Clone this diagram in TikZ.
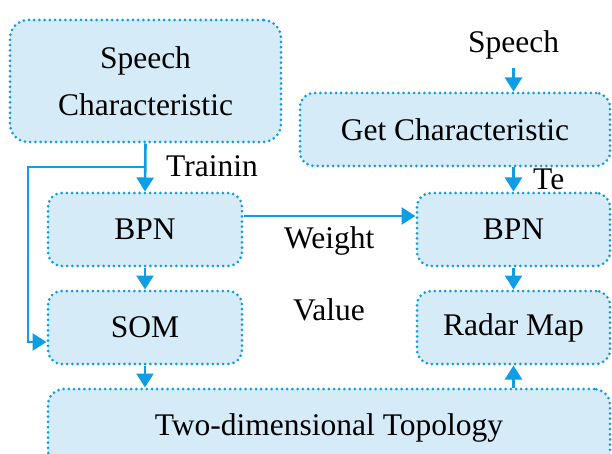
\documentclass[tikz,border=0pt]{standalone}
\usepackage{fontspec}
\setmainfont{Liberation Serif}
\usetikzlibrary{arrows.meta, positioning}
\definecolor{lineblue}{RGB}{15,158,228}
\definecolor{boxfill}{RGB}{213,235,248}
\tikzset{
  block/.style={draw=lineblue, fill=boxfill, line width=3pt, dash pattern=on 0pt off 5.2pt,
    line cap=round, rounded corners=14pt, align=center, inner sep=0pt,
    minimum width=194pt, minimum height=73pt},
  flow/.style={draw=lineblue, line width=2.6pt, -{Triangle[length=14pt,width=17pt]}},
  lbl/.style={inner sep=0pt, anchor=base west}
}
\begin{document}
\begin{tikzpicture}[x=1pt, y=-1pt, font=\rmfamily\fontsize{31.5}{47}\selectfont]
\useasboundingbox (0,0) rectangle (612,454);
% training side
\node[block, minimum width=271pt, minimum height=122pt, rounded corners=18pt] (spch) at (145.5,81) {Speech\\Characteristic};
\node[block] (bpnl) at (145,229.5) {BPN};
\node[block] (soml) at (145,327.5) {SOM};
\node[block, minimum width=562pt, minimum height=77pt, rounded corners=16pt] (topo) at (329,427.5) {Two-dimensional Topology};
% test side
\node[lbl] (spin) at (468,53) {Speech};
\node[block, minimum width=310pt] (getc) at (455,129.5) {Get Characteristic};
\node[block, minimum width=193pt] (bpnr) at (513.5,229.5) {BPN};
\node[block, minimum width=193pt] (radar) at (513.5,327.5) {Radar Map};
% labels
\node[lbl] (train) at (166,177) {Trainin};
\node[lbl] (test) at (533,190) {Te};
\node[lbl] (wlbl) at (284,248) {Weight};
\node[lbl] (vlbl) at (293,320) {Value};
% helper points
\coordinate (jn) at (145,167);
\coordinate (fb) at (28,342);
\coordinate (wt) at (0,216);
% connectors
\draw[flow] (spch.south) -- (bpnl.north);
\draw[flow] (jn) -| (fb) -- (soml.west |- fb);
\draw[flow] (bpnl) -- (soml);
\draw[flow] (soml) -- (topo.north -| soml);
\draw[flow] (bpnl.east |- wt) -- (bpnr.west |- wt);
\draw[flow, shorten <=8pt] (spin.south -| bpnr) -- (getc.north -| bpnr);
\draw[flow] (getc.south -| bpnr) -- (bpnr.north);
\draw[flow] (bpnr) -- (radar);
\draw[flow] (topo.north -| radar) -- (radar.south);
\end{tikzpicture}
\end{document}
